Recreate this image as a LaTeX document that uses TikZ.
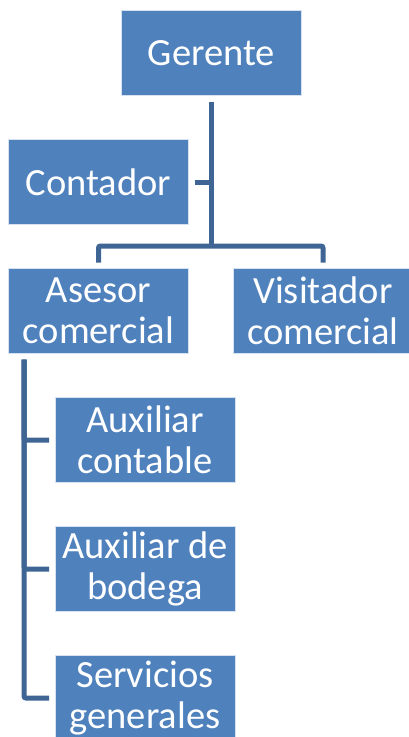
\documentclass[tikz,border=0pt]{standalone}
\usepackage{fontspec}
\setmainfont{Carlito}
\usetikzlibrary{positioning}
\definecolor{cajaazul}{RGB}{79,129,189}
\definecolor{lineaazul}{RGB}{62,101,148}
\definecolor{bordeazul}{RGB}{214,226,240}
\tikzset{font=\fontsize{38.5}{41.5}\selectfont}
\tikzstyle{caja}=[rectangle,fill=cajaazul,draw=bordeazul,line width=0.8pt,text=white,align=center,minimum width=180pt,minimum height=85pt,inner sep=0pt,outer sep=6pt]
\tikzstyle{org}=[draw=lineaazul,line width=5pt,rounded corners=2pt]

\begin{document}
\begin{tikzpicture}[x=1pt,y=-1pt]
\useasboundingbox (0,0) rectangle (409,737);
\node[caja] (G) at (211.5,53) {Gerente};
\node[caja] (C) at (98.5,182) {Contador};
\node[caja] (A) at (98.5,311) {Asesor\\comercial};
\node[caja] (V) at (323,311) {Visitador\\comercial};
\node[caja] (X1) at (145,440) {Auxiliar\\contable};
\node[caja] (X2) at (145,569) {Auxiliar de\\bodega};
\node[caja] (X3) at (145,698) {Servicios\\generales};
\coordinate (B) at (211.5,246);
\coordinate (S) at (24,0);
\draw[org] (G.south) -- (B);
\draw[org] (C.east) -- (C.east -| B);
\draw[org] (A.north) |- (B) -| (V.north);
\draw[org] (A.south -| S) |- (X1.west);
\draw[org] (A.south -| S) |- (X2.west);
\draw[org] (A.south -| S) |- (X3.west);
\end{tikzpicture}
\end{document}
